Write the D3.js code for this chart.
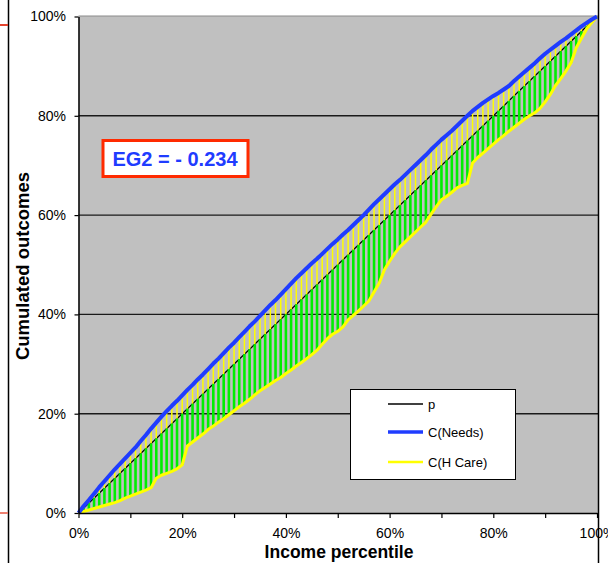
<!DOCTYPE html>
<html>
<head>
<meta charset="utf-8">
<script src="https://cdn.jsdelivr.net/npm/d3@7/dist/d3.min.js"></script>
<style>
  body { margin: 0; background: #fff; }
  svg { display: block; font-family: "Liberation Sans", Arial, sans-serif; }
</style>
</head>
<body>
<svg id="chart" width="608" height="563"></svg>
<script>
// Income percentile (0..100) for each point of the concentration curves
const percentiles = d3.range(0, 101);

// Cumulated share of needs, by income percentile
const needs = [
  0.0, 1.4, 2.6, 3.9, 5.2, 6.4, 7.6, 8.8, 9.9, 11.0,
  12.1, 13.2, 14.5, 15.7, 17.0, 18.2, 19.4, 20.5, 21.6, 22.6,
  23.7, 24.8, 25.8, 26.9, 27.9, 29.0, 30.1, 31.1, 32.2, 33.3,
  34.3, 35.4, 36.5, 37.6, 38.6, 39.7, 40.8, 41.9, 42.9, 44.0,
  45.1, 46.2, 47.3, 48.3, 49.3, 50.3, 51.2, 52.2, 53.2, 54.2,
  55.1, 56.1, 57.0, 58.0, 59.0, 60.0, 61.1, 62.2, 63.2, 64.2,
  65.2, 66.2, 67.1, 68.1, 69.1, 70.1, 71.1, 72.1, 73.2, 74.2,
  75.2, 76.1, 77.0, 78.0, 79.0, 80.0, 81.0, 81.8, 82.6, 83.3,
  84.0, 84.6, 85.3, 86.0, 87.0, 87.9, 88.8, 89.7, 90.6, 91.6,
  92.5, 93.3, 94.1, 94.9, 95.6, 96.4, 97.2, 98.0, 98.7, 99.4,
  100.0
];

// Cumulated share of health care received, by income percentile
const hcare = [
  0.0, 0.3, 0.6, 0.9, 1.2, 1.5, 1.8, 2.1, 2.5, 3.0,
  3.4, 3.8, 4.2, 4.6, 5.1, 7.0, 7.6, 8.0, 8.4, 8.9,
  9.7, 13.5, 14.3, 15.1, 15.9, 16.8, 17.5, 18.3, 19.0, 19.8,
  20.6, 21.4, 22.1, 22.9, 23.8, 24.6, 25.3, 26.0, 26.7, 27.3,
  28.1, 28.8, 29.6, 30.3, 31.1, 31.9, 32.8, 34.0, 35.1, 36.0,
  36.6, 37.5, 38.9, 39.8, 40.7, 41.7, 42.7, 44.5, 46.3, 49.0,
  50.7, 52.3, 53.6, 54.6, 55.6, 56.6, 57.6, 58.6, 60.2, 61.7,
  63.1, 63.8, 64.6, 65.5, 66.0, 66.4, 70.5, 71.6, 72.5, 73.4,
  74.3, 75.2, 76.0, 76.9, 77.7, 78.5, 79.3, 80.0, 80.6, 81.5,
  82.8, 84.3, 86.1, 87.5, 89.0, 90.7, 93.7, 95.6, 97.5, 98.8,
  100.0
];

const yTicks = [0, 20, 40, 60, 80, 100];
const yGrid = [20, 40, 60, 80];
const xTicks = [0, 10, 20, 30, 40, 50, 60, 70, 80, 90, 100];
const xLabelled = [0, 20, 40, 60, 80, 100];
const seriesNames = ["p", "C(Needs)", "C(H Care)"];
const indexLabel = "EG2 = - 0.234";
const xTitle = "Income percentile";
const yTitle = "Cumulated outcomes";

const BLUE = "#1f3cff";
const YELLOW = "#ffff00";
const GREEN = "#00ee00";

const svg = d3.select("#chart");
const x = d3.scaleLinear().domain([0, 100]).range([78.5, 597]);
const y = d3.scaleLinear().domain([0, 100]).range([513, 16.5]);

// outer frame pieces at the sides
svg.append("line").attr("x1", 8.5).attr("x2", 8.5).attr("y1", 0).attr("y2", 563)
  .attr("stroke", "#000").attr("stroke-width", 1.5);
svg.append("line").attr("x1", 0).attr("x2", 8).attr("y1", 25).attr("y2", 25)
  .attr("stroke", "#e4432e").attr("stroke-width", 2);
svg.append("line").attr("x1", 0).attr("x2", 8).attr("y1", 513).attr("y2", 513)
  .attr("stroke", "#ee8070").attr("stroke-width", 2);

// plot area
svg.append("rect")
  .attr("x", x(0)).attr("y", y(100) - 0.5)
  .attr("width", 598 - x(0)).attr("height", y(0) - y(100) + 0.5)
  .attr("fill", "#c0c0c0");
svg.append("line").attr("x1", x(0)).attr("x2", 598).attr("y1", y(100) - 0.5).attr("y2", y(100) - 0.5)
  .attr("stroke", "#8a8a8a").attr("stroke-width", 1);

// horizontal gridlines
svg.append("g").selectAll("line").data(yGrid).join("line")
  .attr("x1", x(0)).attr("x2", 598)
  .attr("y1", d => y(d)).attr("y2", d => y(d))
  .attr("stroke", "#1a1a1a").attr("stroke-width", 1.4);

// equality line p
svg.append("line")
  .attr("x1", x(0)).attr("y1", y(0)).attr("x2", x(100)).attr("y2", y(100))
  .attr("stroke", "#000").attr("stroke-width", 1.3);

// vertical gaps: needs above p (yellow), p above health care (green)
const inner = percentiles.slice(1, -1);
svg.append("g").selectAll("line").data(inner).join("line")
  .attr("x1", d => x(d)).attr("x2", d => x(d))
  .attr("y1", d => y(needs[d])).attr("y2", d => y(d))
  .attr("stroke", YELLOW).attr("stroke-width", 1.5);
svg.append("g").selectAll("line").data(inner).join("line")
  .attr("x1", d => x(d)).attr("x2", d => x(d))
  .attr("y1", d => y(d)).attr("y2", d => y(hcare[d]))
  .attr("stroke", GREEN).attr("stroke-width", 2.6);

// concentration curves
const line = arr => d3.line().x(d => x(d)).y(d => y(arr[d]))(percentiles);
svg.append("path").attr("d", line(hcare))
  .attr("fill", "none").attr("stroke", YELLOW).attr("stroke-width", 3).attr("stroke-linejoin", "round");
svg.append("path").attr("d", line(needs))
  .attr("fill", "none").attr("stroke", BLUE).attr("stroke-width", 4).attr("stroke-linejoin", "round");

// axes
const yAxis = svg.append("g").attr("transform", `translate(${x(0)},0)`)
  .call(d3.axisLeft(y).tickValues(yTicks).tickFormat(d => d + "%").tickSize(4).tickSizeOuter(0).tickPadding(8.5));
const xAxis = svg.append("g").attr("transform", `translate(0,${y(0)})`)
  .call(d3.axisBottom(x).tickValues(xTicks)
    .tickFormat(d => xLabelled.includes(d) ? d + "%" : "").tickSize(5).tickSizeOuter(0).tickPadding(10));
[yAxis, xAxis].forEach(g => {
  g.selectAll("path.domain").attr("stroke", "#000").attr("stroke-width", 1.5);
  g.selectAll(".tick line").attr("stroke", "#000").attr("stroke-width", 1.2);
  g.selectAll("text").attr("fill", "#000").style("font-size", "14px")
    .style("font-family", '"Liberation Sans", Arial, sans-serif');
});

// right border line
svg.append("line").attr("x1", 598.5).attr("x2", 598.5).attr("y1", 0).attr("y2", 563)
  .attr("stroke", "#000").attr("stroke-width", 1.5);

// axis titles
svg.append("text").attr("x", 339).attr("y", 558).attr("text-anchor", "middle")
  .style("font-size", "17.5px").style("font-weight", "bold").text(xTitle);
svg.append("text").attr("transform", "translate(29,266) rotate(-90)").attr("text-anchor", "middle")
  .style("font-size", "18.5px").style("font-weight", "bold").text(yTitle);

// index box
svg.append("rect").attr("x", 103).attr("y", 140.5).attr("width", 145).attr("height", 36)
  .attr("fill", "#fff").attr("stroke", "#ff2a00").attr("stroke-width", 3);
svg.append("text").attr("x", 175).attr("y", 166).attr("text-anchor", "middle")
  .attr("fill", BLUE).style("font-size", "20px").style("font-weight", "bold").text(indexLabel);

// legend
const legend = svg.append("g");
legend.append("rect").attr("x", 350.5).attr("y", 389.5).attr("width", 165).attr("height", 90)
  .attr("fill", "#fff").attr("stroke", "#000").attr("stroke-width", 1);
const legendStyles = [
  { color: "#000", width: 1.3, y: 404 },
  { color: BLUE, width: 3.5, y: 432 },
  { color: YELLOW, width: 2.5, y: 462 }
];
seriesNames.forEach((name, i) => {
  const s = legendStyles[i];
  legend.append("line").attr("x1", 388).attr("x2", 423).attr("y1", s.y).attr("y2", s.y)
    .attr("stroke", s.color).attr("stroke-width", s.width);
  legend.append("text").attr("x", 428).attr("y", s.y + 5)
    .style("font-size", "13px").attr("fill", "#000").text(name);
});
</script>
</body>
</html>
